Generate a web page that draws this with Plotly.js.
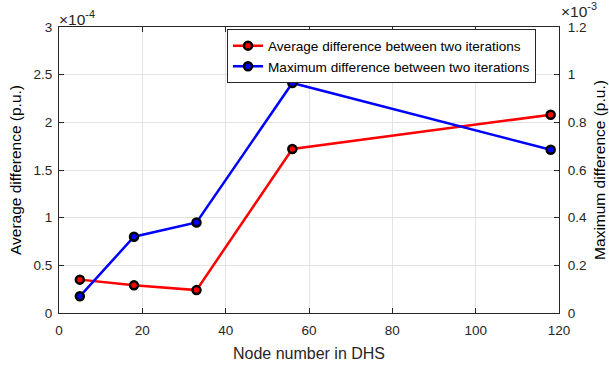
<!DOCTYPE html>
<html><head><meta charset="utf-8">
<script src="https://cdn.plot.ly/plotly-3.0.1.min.js"></script>
<style>body{margin:0;background:#fff}#c{width:609px;height:367px}</style>
</head><body><div id="c"></div>
<script>
var nodes = [5, 18, 33, 56, 118];
var avgDiff = [0.35e-4, 0.29e-4, 0.24e-4, 1.72e-4, 2.08e-4];
var maxDiff = [0.07e-3, 0.32e-3, 0.38e-3, 0.965e-3, 0.685e-3];
var leftTicks = [0, 0.5e-4, 1e-4, 1.5e-4, 2e-4, 2.5e-4, 3e-4];
var leftLabels = ['0', '0.5', '1', '1.5', '2', '2.5', '3'];
var rightTicks = [0, 0.2e-3, 0.4e-3, 0.6e-3, 0.8e-3, 1e-3, 1.2e-3];
var rightLabels = ['0', '0.2', '0.4', '0.6', '0.8', '1', '1.2'];
var xTicks = [0, 20, 40, 60, 80, 100, 120];

var F = 'Liberation Sans, Arial, sans-serif';
var traces = [
  {x: nodes, y: avgDiff, name: 'Average difference between two iterations', mode: 'lines+markers',
   line: {color: '#ff0000', width: 2.5},
   marker: {color: '#ff0000', size: 8, line: {color: '#000', width: 2.5}}, yaxis: 'y'},
  {x: nodes, y: maxDiff, name: 'Maximum difference between two iterations', mode: 'lines+markers',
   line: {color: '#0000ff', width: 2.5},
   marker: {color: '#0000ff', size: 8, line: {color: '#000', width: 2.5}}, yaxis: 'y2'}
];
var layout = {
  width: 609, height: 367, paper_bgcolor: '#fff', plot_bgcolor: '#fff',
  margin: {l: 59, r: 50, t: 27, b: 54},
  font: {family: F, size: 13.5, color: '#262626'},
  showlegend: true,
  legend: {x: 0.336, y: 0.992, xanchor: 'left', yanchor: 'top', bgcolor: '#fff',
    bordercolor: '#262626', borderwidth: 1, font: {size: 13.6, color: '#000'},
    tracegroupgap: 0, itemwidth: 30},
  xaxis: {range: [0, 120], tickvals: xTicks, ticks: 'inside', ticklen: 5, tickcolor: '#262626',
    showline: true, linecolor: '#262626', linewidth: 1, mirror: 'ticks', showgrid: true,
    gridcolor: '#e3e3e3', zeroline: false, ticklabelstandoff: 5,
    title: {text: 'Node number in DHS', font: {size: 16, color: '#262626'}, standoff: 10}},
  yaxis: {range: [0, 3e-4], tickvals: leftTicks, ticktext: leftLabels, ticks: 'inside', ticklen: 5,
    tickcolor: '#262626', showline: true, linecolor: '#262626', linewidth: 1, showgrid: true,
    gridcolor: '#e3e3e3', zeroline: false, ticklabelstandoff: 3,
    title: {text: 'Average difference (p.u.)', font: {size: 15.5, color: '#000'}, standoff: 8}},
  yaxis2: {range: [0, 1.2e-3], tickvals: rightTicks, ticktext: rightLabels, ticks: 'inside', ticklen: 5,
    tickcolor: '#262626', overlaying: 'y', side: 'right', showline: true, linecolor: '#262626',
    linewidth: 1, showgrid: false, zeroline: false, ticklabelstandoff: 5,
    title: {text: 'Maximum difference (p.u.)', font: {size: 15.5, color: '#000'}, standoff: 8}},
  annotations: [
    {xref: 'paper', yref: 'paper', x: 0, y: 1, xanchor: 'left', yanchor: 'bottom', showarrow: false,
     text: '×10<sup>-4</sup>', font: {size: 15.5, color: '#262626'}, xshift: -2, yshift: -3},
    {xref: 'paper', yref: 'paper', x: 1, y: 1, xanchor: 'left', yanchor: 'bottom', showarrow: false,
     text: '×10<sup>-3</sup>', font: {size: 15.5, color: '#262626'}, xshift: 0, yshift: 5}
  ]
};
Plotly.newPlot('c', traces, layout, {displayModeBar: false, staticPlot: true});
</script></body></html>
